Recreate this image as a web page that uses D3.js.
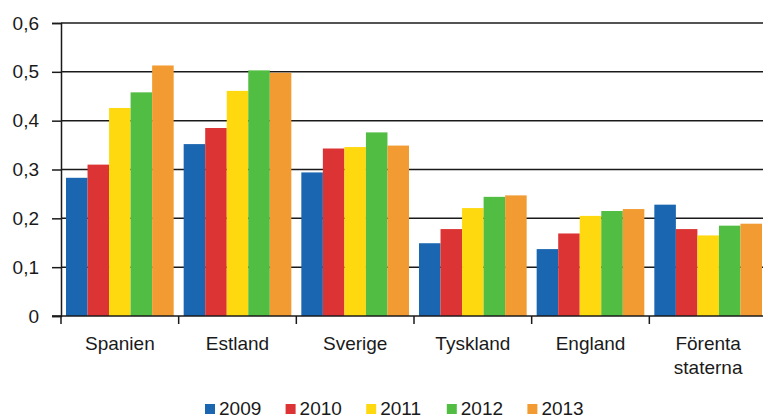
<!DOCTYPE html>
<html>
<head>
<meta charset="utf-8">
<script src="https://cdn.jsdelivr.net/npm/d3@7"></script>
<style>
  body { margin: 0; background: #fff; }
  text { font-family: "Liberation Sans", Arial, sans-serif; fill: #1a1a1a; }
</style>
</head>
<body>
<div id="chart"></div>
<script>
// categories and series
const countries = [["Spanien"], ["Estland"], ["Sverige"], ["Tyskland"], ["England"], ["Förenta", "staterna"]];
const years = ["2009", "2010", "2011", "2012", "2013"];
const colors = ["#1a66b0", "#dc3434", "#ffd90f", "#52bd43", "#f29b32"];
const v2009 = [0.283, 0.352, 0.294, 0.149, 0.137, 0.228];
const v2010 = [0.310, 0.385, 0.343, 0.178, 0.169, 0.178];
const v2011 = [0.426, 0.461, 0.346, 0.221, 0.205, 0.165];
const v2012 = [0.458, 0.503, 0.376, 0.244, 0.215, 0.185];
const v2013 = [0.513, 0.498, 0.349, 0.247, 0.219, 0.189];
const yTicks = [0, 0.1, 0.2, 0.3, 0.4, 0.5, 0.6];

const series = [v2009, v2010, v2011, v2012, v2013];
const fontSize = 19;

const width = 763, height = 419;
const svg = d3.select("#chart").append("svg")
  .attr("width", width).attr("height", height);

const x0 = d3.scaleBand()
  .domain(d3.range(countries.length))
  .range([61, 767]);

const x1 = d3.scaleBand()
  .domain(d3.range(years.length))
  .range([5, x0.bandwidth() - 5]);

const y = d3.scaleLinear().domain([0, 0.6]).range([316, 23]);

// gridlines
svg.append("g").selectAll("line")
  .data(yTicks.slice(1))
  .join("line")
    .attr("x1", 61).attr("x2", width)
    .attr("y1", d => y(d)).attr("y2", d => y(d))
    .attr("stroke", "#1a1a1a").attr("stroke-width", 1.5);

// y axis
const yAxis = svg.append("g")
  .attr("transform", "translate(61,0)")
  .call(d3.axisLeft(y).tickValues(yTicks).tickSize(9).tickPadding(13)
    .tickFormat(d => d3.format(".1f")(d).replace(".", ",").replace(/^0,0$/, "0")));
yAxis.select(".domain").attr("stroke", "#1a1a1a").attr("stroke-width", 1.5);
yAxis.selectAll(".tick line").attr("stroke", "#1a1a1a").attr("stroke-width", 1.5);
yAxis.selectAll(".tick text")
  .attr("font-size", fontSize)
  .attr("font-family", "Liberation Sans, Arial, sans-serif")
  .attr("fill", "#1a1a1a");

// bars
const groups = svg.append("g").selectAll("g")
  .data(countries)
  .join("g")
    .attr("transform", (d, i) => "translate(" + x0(i) + ",0)");

groups.selectAll("rect")
  .data((d, i) => series.map((s, j) => ({ s: j, v: s[i] })))
  .join("rect")
    .attr("x", d => x1(d.s))
    .attr("width", x1.bandwidth())
    .attr("y", d => y(d.v))
    .attr("height", d => y(0) - y(d.v))
    .attr("fill", d => colors[d.s]);

// x axis
const xAxis = svg.append("g").attr("transform", "translate(0,316)");
xAxis.append("line")
  .attr("x1", 52).attr("x2", width)
  .attr("stroke", "#1a1a1a").attr("stroke-width", 1.5);
xAxis.selectAll(".xt")
  .data(d3.range(countries.length))
  .join("line")
    .attr("class", "xt")
    .attr("x1", d => x0(d)).attr("x2", d => x0(d))
    .attr("y1", 0).attr("y2", 8)
    .attr("stroke", "#1a1a1a").attr("stroke-width", 1.5);

const labels = xAxis.selectAll(".xl")
  .data(countries)
  .join("text")
    .attr("class", "xl")
    .attr("text-anchor", "middle")
    .attr("font-size", fontSize)
    .attr("transform", (d, i) => "translate(" + (x0(i) + x0.bandwidth() / 2) + ",0)");
labels.selectAll("tspan")
  .data(d => d)
  .join("tspan")
    .attr("x", 0)
    .attr("y", (d, i) => 34 + i * 24)
    .text(d => d);

// legend (sits at the very bottom edge, as in the original)
const legend = svg.append("g").attr("transform", "translate(205,404)");
const items = legend.selectAll("g")
  .data(years)
  .join("g")
    .attr("transform", (d, i) => "translate(" + (i * 80.6) + ",0)");
items.append("rect")
  .attr("width", 10).attr("height", 10)
  .attr("fill", (d, i) => colors[i]);
items.append("text")
  .attr("x", 14).attr("y", 11)
  .attr("font-size", fontSize)
  .text(d => d);
</script>
</body>
</html>
